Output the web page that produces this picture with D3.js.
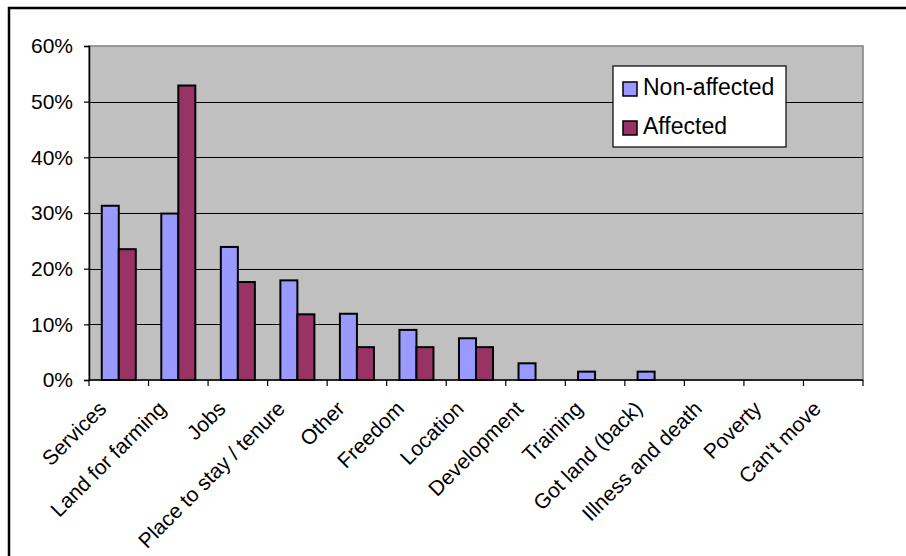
<!DOCTYPE html>
<html>
<head>
<meta charset="utf-8">
<script src="https://cdn.jsdelivr.net/npm/d3@7"></script>
<style>
  html, body { margin: 0; padding: 0; background: #fff; }
  svg { display: block; font-family: "Liberation Sans", Arial, sans-serif; }
</style>
</head>
<body>
<svg id="chart" width="906" height="556"></svg>
<script>
// Reasons given, shares of respondents per group
const categories = [
  "Services", "Land for farming", "Jobs", "Place to stay / tenure", "Other",
  "Freedom", "Location", "Development", "Training", "Got land (back)",
  "Illness and death", "Poverty", "Can't move"
];
const nonAffected = [0.313, 0.299, 0.239, 0.179, 0.119, 0.090, 0.075, 0.030, 0.015, 0.015, 0, 0, 0];
const affected    = [0.235, 0.529, 0.176, 0.118, 0.059, 0.059, 0.059, 0, 0, 0, 0, 0, 0];
const seriesNames = ["Non-affected", "Affected"];
const seriesColors = ["#9999FF", "#993366"];
const yTicks = [0, 0.1, 0.2, 0.3, 0.4, 0.5, 0.6];

const svg = d3.select("#chart");
const plot = { left: 89, top: 46, right: 863, bottom: 380 };

// Outer chart frame (continues past the window on the right and bottom)
svg.append("rect")
  .attr("x", 9).attr("y", 8).attr("width", 1000).attr("height", 700)
  .attr("fill", "#fff").attr("stroke", "#000").attr("stroke-width", 2.5);

const x = d3.scaleBand().domain(categories).range([plot.left, plot.right]).paddingInner(0).paddingOuter(0);
const y = d3.scaleLinear().domain([0, 0.6]).range([plot.bottom, plot.top]);

// Plot area background
svg.append("rect")
  .attr("x", plot.left).attr("y", plot.top)
  .attr("width", plot.right - plot.left).attr("height", plot.bottom - plot.top)
  .attr("fill", "#C0C0C0").attr("stroke", "#808080").attr("stroke-width", 1.5);

// Horizontal gridlines
svg.append("g").selectAll("line")
  .data(yTicks.filter(t => t > 0 && t < 0.6))
  .join("line")
  .attr("x1", plot.left).attr("x2", plot.right)
  .attr("y1", d => Math.round(y(d)) + 0.5).attr("y2", d => Math.round(y(d)) + 0.5)
  .attr("stroke", "#000").attr("stroke-width", 1.2);

// Bars: two per category, gap width 150%
const inner = d3.scaleBand().domain(seriesNames).range([0, x.bandwidth()]).paddingOuter(0.75).paddingInner(0);
const rows = categories.map((c, i) => ({ c, vals: [nonAffected[i], affected[i]] }));
const groups = svg.append("g").selectAll("g")
  .data(rows).join("g")
  .attr("transform", d => `translate(${x(d.c)},0)`);
groups.selectAll("rect")
  .data(d => d.vals.map((v, k) => ({ v, k })).filter(e => e.v > 0))
  .join("rect")
  .attr("x", e => inner(seriesNames[e.k]))
  .attr("width", inner.bandwidth())
  .attr("y", e => y(e.v))
  .attr("height", e => y(0) - y(e.v))
  .attr("fill", e => seriesColors[e.k])
  .attr("stroke", "#000").attr("stroke-width", 2);

// Y axis
const yAxis = d3.axisLeft(y).tickValues(yTicks).tickFormat(d3.format(".0%")).tickSize(5).tickPadding(11);
const gy = svg.append("g").attr("transform", `translate(${plot.left},0)`).call(yAxis);
gy.attr("font-family", null).attr("font-size", null);
gy.select(".domain").attr("stroke", "#000").attr("stroke-width", 1.5);
gy.selectAll(".tick line").attr("stroke", "#000").attr("stroke-width", 1.2);
gy.selectAll(".tick text").attr("font-size", 21).attr("fill", "#000");

// X axis: ticks at category boundaries
const gx = svg.append("g");
gx.append("line")
  .attr("x1", plot.left).attr("x2", plot.right)
  .attr("y1", plot.bottom).attr("y2", plot.bottom)
  .attr("stroke", "#000").attr("stroke-width", 1.5);
const bounds = categories.map(c => x(c)).concat([plot.right]);
gx.selectAll("line.tk").data(bounds).join("line").attr("class", "tk")
  .attr("x1", d => d).attr("x2", d => d)
  .attr("y1", plot.bottom).attr("y2", plot.bottom + 6)
  .attr("stroke", "#000").attr("stroke-width", 1.2);
gx.selectAll("text").data(categories).join("text")
  .attr("transform", d => `translate(${x(d) + x.bandwidth() / 2 - 11},${plot.bottom + 30}) rotate(-45)`)
  .attr("text-anchor", "end")
  .attr("font-size", 21)
  .attr("fill", "#000")
  .text(d => d);

// Legend
const lg = svg.append("g").attr("transform", "translate(613,66)");
lg.append("rect").attr("width", 173).attr("height", 81)
  .attr("fill", "#fff").attr("stroke", "#000").attr("stroke-width", 1.2);
seriesNames.forEach((name, i) => {
  const row = lg.append("g").attr("transform", `translate(0,${16 + i * 39})`);
  row.append("rect").attr("x", 10).attr("y", 0).attr("width", 14).attr("height", 14)
    .attr("fill", seriesColors[i]).attr("stroke", "#000").attr("stroke-width", 1.5);
  row.append("text").attr("x", 30).attr("y", 12.5)
    .attr("font-size", 23).attr("fill", "#000").text(name);
});
</script>
</body>
</html>
